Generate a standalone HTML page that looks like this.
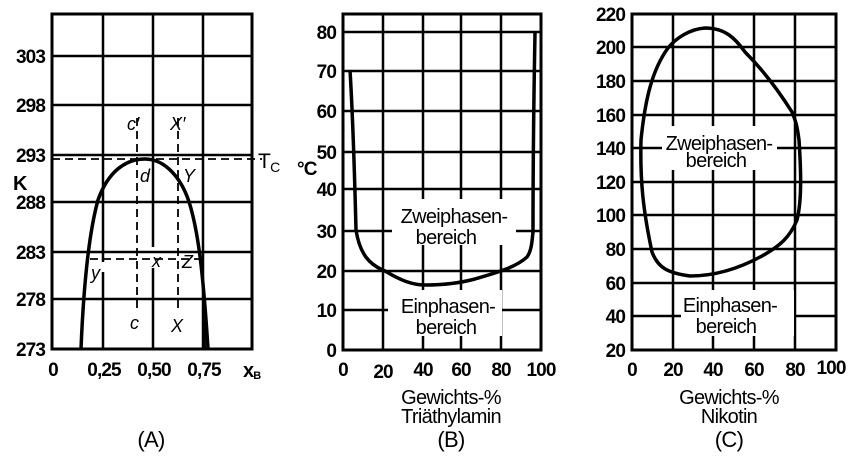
<!DOCTYPE html>
<html><head><meta charset="utf-8"><style>
html,body{margin:0;padding:0;background:#fff;}
svg{display:block;}
text{font-family:"Liberation Sans",sans-serif;fill:#000;}
.t{font-size:19px;font-weight:bold;letter-spacing:-0.9px;}
.l{font-size:20px;letter-spacing:-0.7px;}
.i{font-size:18px;font-style:italic;}
</style></head><body>
<svg width="863" height="456" viewBox="0 0 863 456" xmlns="http://www.w3.org/2000/svg">
<g stroke="#000" fill="none">
<!-- Panel A -->
<g stroke-width="2.5">
<line x1="103" y1="14" x2="103" y2="262"/>
<line x1="103" y1="272" x2="103" y2="349"/>
<line x1="153" y1="14" x2="153" y2="247"/>
<line x1="153" y1="268" x2="153" y2="349"/>
<line x1="203" y1="14" x2="203" y2="349"/>
<line x1="52" y1="56" x2="252" y2="56"/>
<line x1="52" y1="105" x2="252" y2="105"/>
<line x1="52" y1="155" x2="252" y2="155"/>
<line x1="52" y1="202" x2="252" y2="202"/>
<line x1="52" y1="252" x2="252" y2="252"/>
<line x1="52" y1="299" x2="252" y2="299"/>
</g>
<rect x="52" y="14" width="200" height="335" stroke-width="3"/>
<g stroke-width="1.8" stroke-dasharray="8,5">
<line x1="52" y1="159" x2="262" y2="159"/>
<line x1="137" y1="118" x2="137" y2="310"/>
<line x1="178" y1="118" x2="178" y2="310"/>
<line x1="90" y1="259" x2="203" y2="259"/>
</g>
<path d="M81,349 C83,300 87,240 98,200 C108,172 125,159 145,159 C165,159 182,178 190,205 C198,232 203,270 208,349" stroke-width="3.5"/>
<line x1="204" y1="290" x2="205" y2="349" stroke-width="2"/>
<!-- Panel B -->
<g stroke-width="2.5">
<line x1="383" y1="14" x2="383" y2="350"/>
<line x1="423" y1="14" x2="423" y2="350"/>
<line x1="461" y1="14" x2="461" y2="350"/>
<line x1="501" y1="14" x2="501" y2="350"/>
<line x1="343" y1="32" x2="541" y2="32"/>
<line x1="343" y1="71" x2="541" y2="71"/>
<line x1="343" y1="111" x2="541" y2="111"/>
<line x1="343" y1="152" x2="541" y2="152"/>
<line x1="343" y1="189" x2="541" y2="189"/>
<line x1="343" y1="231" x2="541" y2="231"/>
<line x1="343" y1="271" x2="541" y2="271"/>
<line x1="343" y1="310" x2="541" y2="310"/>
</g>
<rect x="343" y="14" width="198" height="336" stroke-width="3"/>
<path d="M350,70 C353,120 355,190 356,230 C360,255 370,265 385,271 C400,280 412,285 425,285 C445,285 460,283 475,279 C495,273 515,268 527,257 C532,250 532,240 533,232 C533,200 533,140 535,33" stroke-width="3.5"/>
<!-- Panel C -->
<g stroke-width="2.5">
<line x1="673" y1="14" x2="673" y2="350"/>
<line x1="713" y1="14" x2="713" y2="350"/>
<line x1="754" y1="14" x2="754" y2="350"/>
<line x1="795" y1="14" x2="795" y2="350"/>
<line x1="632" y1="47" x2="836" y2="47"/>
<line x1="632" y1="81" x2="836" y2="81"/>
<line x1="632" y1="115" x2="836" y2="115"/>
<line x1="632" y1="148" x2="836" y2="148"/>
<line x1="632" y1="182" x2="836" y2="182"/>
<line x1="632" y1="215" x2="836" y2="215"/>
<line x1="632" y1="249" x2="836" y2="249"/>
<line x1="632" y1="283" x2="836" y2="283"/>
<line x1="632" y1="316" x2="836" y2="316"/>
</g>
<rect x="632" y="14" width="204" height="336" stroke-width="3"/>
<path d="M705,28 C690,29 676,38 668,48 C652,70 645,100 641,140 C640,180 643,210 652,252 C658,268 668,273 690,276 C715,276 740,268 762,256 C780,246 790,237 797,220 C802,200 801,170 799,140 C797,125 796,122 792,112 C780,93 765,72 745,52 C735,38 725,28 705,28 Z" stroke-width="3.5"/>
</g>
<!-- label backgrounds -->
<g fill="#fff">
<rect x="392" y="199" width="124" height="46"/>
<rect x="388" y="290" width="114" height="46"/>
<rect x="662" y="126" width="115" height="44"/>
<rect x="681" y="290" width="113" height="46"/>
</g>
<!-- Panel A text -->
<g class="t" text-anchor="end">
<text x="45" y="63">303</text>
<text x="45" y="112">298</text>
<text x="45" y="162">293</text>
<text x="45" y="209">288</text>
<text x="45" y="259">283</text>
<text x="45" y="306">278</text>
<text x="45" y="356">273</text>
</g>
<text x="13" y="190" class="t" style="font-size:20px">K</text>
<g class="t" text-anchor="middle">
<text x="53" y="376">0</text>
<text x="104" y="376">0,25</text>
<text x="154" y="376">0,50</text>
<text x="204" y="376">0,75</text>
</g>
<text x="243" y="377" class="t" style="font-size:20px">x<tspan font-size="11" dy="2">B</tspan></text>
<text x="258" y="168" class="l" style="font-size:21px">T<tspan font-size="14" dy="4">C</tspan></text>
<g class="i">
<text x="127" y="130">c′</text>
<text x="170" y="130">X′</text>
<text x="140" y="182">d</text>
<text x="183" y="182">Y</text>
<text x="91" y="279">y</text>
<text x="152" y="267">x</text>
<text x="182" y="268">Z</text>
<text x="130" y="329">c</text>
<text x="171" y="332">X</text>
</g>
<text x="151" y="447" class="l" text-anchor="middle" style="font-size:22px">(A)</text>
<!-- Panel B text -->
<g class="t" text-anchor="end">
<text x="336" y="39">80</text>
<text x="336" y="78">70</text>
<text x="336" y="118">60</text>
<text x="336" y="159">50</text>
<text x="336" y="196">40</text>
<text x="336" y="238">30</text>
<text x="336" y="278">20</text>
<text x="336" y="317">10</text>
<text x="336" y="357">0</text>
</g>
<text x="297" y="175" class="t">°C</text>
<g class="t" text-anchor="middle">
<text x="343" y="376">0</text>
<text x="383" y="378">20</text>
<text x="423" y="376">40</text>
<text x="461" y="376">60</text>
<text x="501" y="376">80</text>
<text x="541" y="376">100</text>
</g>
<g class="l" text-anchor="middle">
<text x="454" y="223">Zweiphasen-</text>
<text x="446" y="244">bereich</text>
<text x="448" y="313">Einphasen-</text>
<text x="446" y="334">bereich</text>
<text x="451" y="404">Gewichts-%</text>
<text x="451" y="423">Triäthylamin</text>
<text x="451" y="447" style="font-size:22px">(B)</text>
</g>
<!-- Panel C text -->
<g class="t" text-anchor="end">
<text x="625" y="21">220</text>
<text x="625" y="54">200</text>
<text x="625" y="88">180</text>
<text x="625" y="122">160</text>
<text x="625" y="155">140</text>
<text x="625" y="189">120</text>
<text x="625" y="222">100</text>
<text x="625" y="256">80</text>
<text x="625" y="290">60</text>
<text x="625" y="323">40</text>
<text x="625" y="357">20</text>
</g>
<g class="t" text-anchor="middle">
<text x="632" y="376">0</text>
<text x="673" y="376">20</text>
<text x="713" y="376">40</text>
<text x="754" y="376">60</text>
<text x="795" y="376">80</text>
<text x="831" y="374">100</text>
</g>
<g class="l" text-anchor="middle">
<text x="719" y="150">Zweiphasen-</text>
<text x="716" y="167">bereich</text>
<text x="730" y="312">Einphasen-</text>
<text x="726" y="333">bereich</text>
<text x="729" y="404">Gewichts-%</text>
<text x="729" y="423">Nikotin</text>
<text x="729" y="447" style="font-size:22px">(C)</text>
</g>
</svg>
</body></html>
